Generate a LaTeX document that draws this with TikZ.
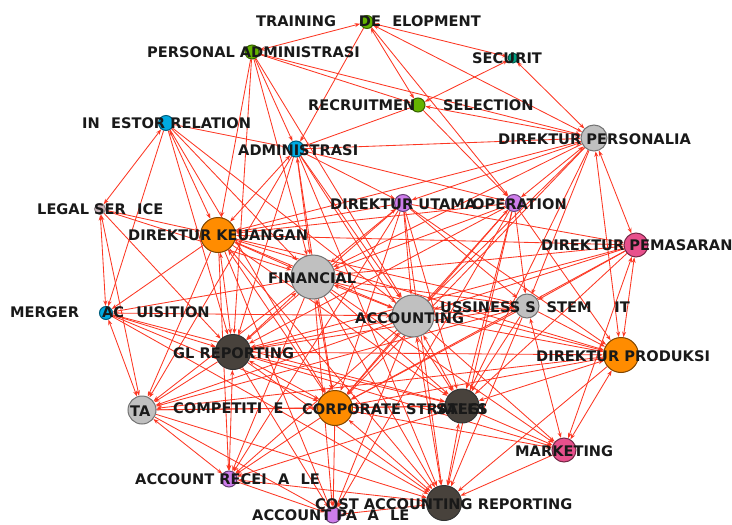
\documentclass[tikz,border=0pt]{standalone}
\usepackage{fontspec}
\setmainfont{DejaVu Sans}
\usetikzlibrary{arrows.meta}
\definecolor{edgec}{RGB}{252,55,35}
\definecolor{cgreen}{RGB}{100,180,0}
\definecolor{cblue}{RGB}{0,170,225}
\definecolor{cteal}{RGB}{0,160,130}
\definecolor{cgray}{RGB}{192,192,192}
\definecolor{corange}{RGB}{255,140,0}
\definecolor{cpurple}{RGB}{205,125,235}
\definecolor{cpink}{RGB}{232,80,140}
\definecolor{cdark}{RGB}{72,66,60}
\definecolor{clegal}{RGB}{205,185,190}
\pgfdeclarelayer{edges}
\pgfsetlayers{edges,main}
\begin{document}
\begin{tikzpicture}[x=1pt,y=-1pt,
  dot/.style={circle,line width=1pt,inner sep=0pt,minimum size=#1},
  gn/.style={dot=#1,fill=cgreen,draw=cgreen!55!black},
  bn/.style={dot=#1,fill=cblue,draw=cblue!55!black},
  tn/.style={dot=#1,fill=cteal,draw=cteal!55!black},
  yn/.style={dot=#1,fill=cgray,draw=black!55},
  on/.style={dot=#1,fill=corange,draw=corange!50!black},
  pn/.style={dot=#1,fill=cpurple,draw=cpurple!50!black},
  kn/.style={dot=#1,fill=cpink,draw=cpink!50!black},
  dn/.style={dot=#1,fill=cdark,draw=black!80},
  ln/.style={dot=#1,fill=clegal,draw=clegal!70!black},
  lbl/.style={font=\bfseries\fontsize{14.6}{15}\selectfont,text=black!90,inner sep=0pt,anchor=west},
  ed/.style={draw=edgec,line width=0.85pt,-{Stealth[length=5.5pt,width=4pt]}},
  bd/.style={draw=edgec,line width=0.85pt,{Stealth[length=5.5pt,width=4pt]}-{Stealth[length=5.5pt,width=4pt]}}]
\useasboundingbox (0,0) rectangle (732,525);
% nodes
\node[gn=13pt] (TR) at (367,22) {};
\node[gn=14pt] (PA) at (252,52) {};
\node[tn=10pt] (SEC) at (513,58) {};
\node[gn=14pt] (RS) at (418,105) {};
\node[bn=15pt] (IR) at (166,123) {};
\node[bn=16pt] (ADM) at (296,149) {};
\node[yn=26pt] (DPERS) at (594,138) {};
\node[ln=11pt] (LS) at (100,209) {};
\node[on=35pt] (DK) at (218,235) {};
\node[pn=17pt] (DU) at (403,203) {};
\node[pn=17pt] (OP) at (514,203) {};
\node[kn=24pt] (DPEM) at (636,245) {};
\node[yn=44pt] (FIN) at (313,277) {};
\node[bn=13pt] (MA) at (106,313) {};
\node[yn=42pt] (ACC) at (413,316) {};
\node[yn=24pt] (BSI) at (527,306) {};
\node[dn=35pt] (GL) at (233,352) {};
\node[on=35pt] (DPROD) at (621,355) {};
\node[yn=28pt] (TA) at (142,410) {};
\node[minimum size=2pt,inner sep=0pt] (COMP) at (226,408) {};
\node[on=35pt] (CS) at (335,408) {};
\node[dn=34pt] (SALES) at (462,406) {};
\node[kn=24pt] (MKT) at (564,450) {};
\node[pn=16pt] (AR) at (229,479) {};
\node[dn=35pt] (CAR) at (444,503) {};
\node[pn=16pt] (AP) at (333,515) {};
% edges
\begin{pgfonlayer}{edges}
\foreach \a/\b in {PA/TR,TR/RS,TR/SEC,TR/DPERS,RS/SEC,RS/DPERS,SEC/DPERS,IR/LS,IR/DK,
  DPERS/DU,DPERS/OP,DPERS/DPEM,DPERS/DPROD,DK/FIN,DK/GL,FIN/ACC,FIN/GL,ACC/CS,GL/CS,
  CS/SALES,SALES/CAR,CS/CAR,DPROD/MKT,DPEM/MKT,DPEM/DPROD,BSI/MKT,MA/TA,LS/MA,LS/TA,
  GL/AR,TA/AR,AR/CAR,AP/CAR,DK/CS,FIN/CS,ACC/SALES,ACC/CAR,GL/SALES,DPROD/SALES,
  OP/ACC,DU/FIN,ADM/DK,ADM/FIN}
  \draw[bd] (\a) -- (\b);
\foreach \a/\b in {PA/RS,PA/DPERS,PA/ADM,PA/GL,PA/FIN,PA/DK,PA/ACC,TR/OP,TR/ADM,RS/OP,
  RS/ADM,IR/ADM,IR/FIN,IR/GL,IR/MA,IR/CS,IR/ACC,ADM/GL,ADM/ACC,ADM/CS,ADM/SALES,ADM/DU,
  ADM/DPERS,ADM/OP,ADM/TA,ADM/CAR,DPERS/DK,DPERS/FIN,DPERS/BSI,DPERS/SALES,DPERS/ACC,
  DPERS/CS,DU/DK,DU/ACC,DU/GL,DU/CS,DU/SALES,DU/CAR,DU/DPEM,DU/DPROD,DU/BSI,DU/AR,
  OP/FIN,OP/CS,OP/SALES,OP/CAR,OP/DPROD,OP/DK,OP/GL,OP/BSI,OP/AP,DPEM/DK,DPEM/FIN,
  DPEM/ACC,DPEM/SALES,DPEM/CS,DPEM/GL,DPEM/BSI,LS/DK,LS/FIN,LS/GL,DK/ACC,DK/SALES,
  DK/CAR,DK/TA,DK/MA,DK/AR,DK/BSI,DK/DPROD,DK/AP,FIN/SALES,FIN/CAR,FIN/TA,FIN/MA,
  FIN/AR,FIN/BSI,FIN/DPROD,FIN/MKT,FIN/AP,MA/GL,MA/ACC,MA/CS,MA/CAR,MA/SALES,ACC/GL,
  ACC/TA,ACC/BSI,ACC/DPROD,ACC/MKT,ACC/AR,ACC/AP,BSI/DPROD,BSI/SALES,BSI/CS,BSI/CAR,
  BSI/GL,BSI/TA,GL/TA,GL/CAR,GL/DPROD,GL/AP,GL/MKT,DPROD/CS,DPROD/CAR,DPROD/TA,TA/CS,
  TA/CAR,TA/SALES,TA/AP,CS/AR,CS/AP,CS/MKT,SALES/MKT,SALES/AR,MKT/CAR,AR/AP}
  \draw[ed] (\a) -- (\b);
\end{pgfonlayer}
% labels
\node[lbl] (lTR) at (256,21) {TRAINING \phantom{\&} DE\phantom{V}ELOPMENT};
\node[lbl] (lPA) at (147,52) {PERSONAL ADMINISTRASI};
\node[lbl] (lSEC) at (472,58) {SECURIT};
\node[lbl] (lRS) at (308,105) {RECRUITMEN\phantom{T\&} SELECTION};
\node[lbl] (lIR) at (82,123) {IN\phantom{V}ESTOR RELATION};
\node[lbl] (lADM) at (238,150) {ADMINISTRASI};
\node[lbl] (lDPERS) at (498,139) {DIREKTUR PERSONALIA};
\node[lbl] (lLS) at (37,209) {LEGAL SER\phantom{V}ICE};
\node[lbl] (lDK) at (128,235) {DIREKTUR KEUANGAN};
\node[lbl] (lDU) at (330,204) {DIREKTUR UTAMA};
\node[lbl] (lOP) at (472,204) {OPERATION};
\node[lbl] (lDPEM) at (541,245) {DIREKTUR PEMASARAN};
\node[lbl] (lFIN) at (268,278) {FINANCIAL};
\node[lbl] (lMA) at (10,313) {MERGER \phantom{\&} AC\phantom{Q}UISITION};
\node[lbl] (lACC) at (355,318) {ACCOUNTING};
\node[lbl] (lBSI) at (440,307) {USSINESS S\phantom{Y}STEM \phantom{\&} IT};
\node[lbl] (lGL) at (173,353) {GL REPORTING};
\node[lbl] (lDPROD) at (536,356) {DIREKTUR PRODUKSI};
\node[lbl] (lTA) at (130,411) {TA};
\node[lbl] (lCOMP) at (173,408) {COMPETITI\phantom{V}E};
\node[lbl] (lCS) at (302,409) {CORPORATE STRATEGI};
\node[lbl,anchor=center] (lSALES) at (462,409) {SALES};
\node[lbl] (lMKT) at (515,451) {MARKETING};
\node[lbl] (lAR) at (135,479) {ACCOUNT RECEI\phantom{V}A\phantom{B}LE};
\node[lbl] (lCAR) at (315,504) {COST ACCOUNTING REPORTING};
\node[lbl] (lAP) at (252,515) {ACCOUNT PA\phantom{Y}A\phantom{B}LE};
\end{tikzpicture}
\end{document}
